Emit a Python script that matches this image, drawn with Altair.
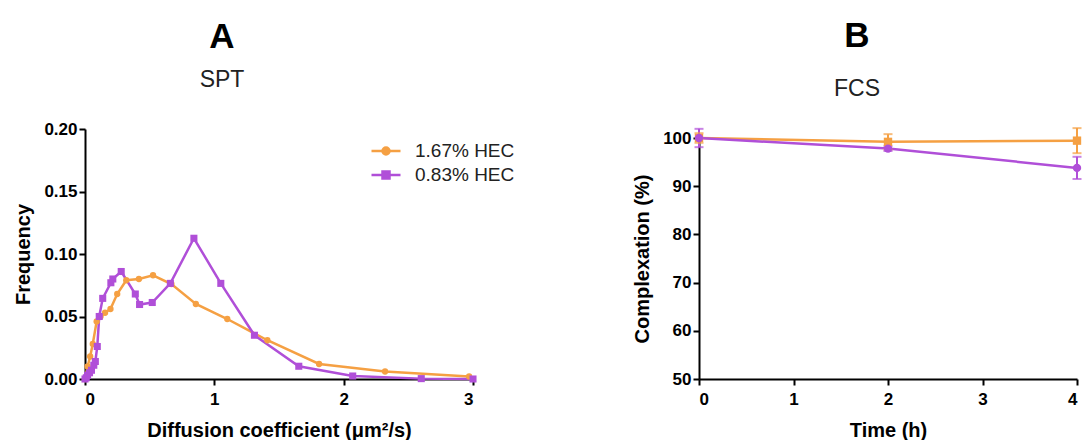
import altair as alt
import pandas as pd

FONT = "Liberation Sans"
series_names = ["1.67% HEC", "0.83% HEC"]
series_colors = ["#F5A043", "#B04FD8"]

# Panel A: SPT diffusion coefficient distribution
a_orange_x = [0, 0.02, 0.04, 0.06, 0.09, 0.12, 0.155, 0.197, 0.249, 0.319, 0.417, 0.526, 0.668, 0.857, 1.10, 1.41, 1.81, 2.32, 2.97]
a_orange_y = [0, 0.010, 0.018, 0.028, 0.046, 0.050, 0.053, 0.056, 0.068, 0.079, 0.080, 0.083, 0.076, 0.060, 0.048, 0.031, 0.012, 0.006, 0.002]
a_purple_x = [0, 0.01, 0.02, 0.035, 0.05, 0.068, 0.08, 0.095, 0.11, 0.137, 0.20, 0.215, 0.28, 0.389, 0.422, 0.52, 0.66, 0.842, 1.05, 1.31, 1.653, 2.07, 2.6, 3.0]
a_purple_y = [0, 0.001, 0.003, 0.005, 0.007, 0.011, 0.014, 0.026, 0.050, 0.0645, 0.077, 0.080, 0.086, 0.068, 0.0596, 0.0612, 0.0765, 0.1126, 0.0765, 0.035, 0.0102, 0.0024, 0.0003, 0.0]

# Panel B: FCS complexation over time
b_time = [0, 2, 4]
b_orange_mean = [100, 99.2, 99.45]
b_orange_err = [1.0, 1.6, 2.6]
b_purple_mean = [100, 97.8, 93.8]
b_purple_err = [1.9, 0.5, 2.3]

rowsA = []
for i, (xs, ys) in enumerate([(a_orange_x, a_orange_y), (a_purple_x, a_purple_y)]):
    for k, (xv, yv) in enumerate(zip(xs, ys)):
        rowsA.append({"series": series_names[i], "D": xv, "F": yv, "k": k})
dfA = pd.DataFrame(rowsA)

rowsB = []
for i, (ms, es) in enumerate([(b_orange_mean, b_orange_err), (b_purple_mean, b_purple_err)]):
    for t, m, e in zip(b_time, ms, es):
        rowsB.append({"series": series_names[i], "T": t, "C": m, "lo": m - e, "hi": m + e})
dfB = pd.DataFrame(rowsB)

color_scale = alt.Scale(domain=series_names, range=series_colors)

axis_common = dict(
    domainColor="black", domainWidth=2, tickColor="black", tickWidth=2, tickSize=6,
    labelFont=FONT, labelFontSize=17, labelFontWeight="bold", labelColor="black",
    titleFont=FONT, titleFontSize=20, titleFontWeight="bold", titleColor="black",
    grid=False,
)

first = series_names[0]
shape_expr = ("datum.value === '" + first + "' ? "
              "'M-1.16,0H1.16M0.28,0A0.28,0.28,0,1,1,-0.28,0A0.28,0.28,0,1,1,0.28,0Z' : "
              "'M-1.16,0H1.16M-0.28,-0.28H0.28V0.28H-0.28Z'")
fill_expr = "datum.value === '" + first + "' ? '" + series_colors[0] + "' : '" + series_colors[1] + "'"

legendA = alt.Legend(
    title=None, orient="none", legendX=287, legendY=8,
    labelFont=FONT, labelFontSize=19, labelColor="#222222",
    symbolSize=625, rowPadding=0, labelOffset=15,
    symbolType={"expr": shape_expr},
    symbolFillColor={"expr": fill_expr},
    symbolStrokeColor={"expr": fill_expr},
    symbolStrokeWidth=2.5, symbolOpacity=1,
)

xA = alt.X("D:Q", scale=alt.Scale(domain=[0, 3], nice=False),
           axis=alt.Axis(values=[0, 1, 2, 3], format="d", title="Diffusion coefficient (μm²/s)",
                         labelPadding=6, titlePadding=13, **axis_common))
yA = alt.Y("F:Q", scale=alt.Scale(domain=[0, 0.2], nice=False),
           axis=alt.Axis(values=[0, 0.05, 0.1, 0.15, 0.2], format=".2f", title="Frequency",
                         titlePadding=10, **axis_common))

baseA = alt.Chart(dfA)
lineA = baseA.mark_line(strokeWidth=2.5).encode(
    x=xA, y=yA, order="k:Q",
    color=alt.Color("series:N", scale=color_scale, legend=legendA),
)
circA = baseA.transform_filter(alt.datum.series == series_names[0]).mark_circle(opacity=1, size=40).encode(
    x=xA, y=yA, color=alt.Color("series:N", scale=color_scale, legend=legendA),
)
sqA = baseA.transform_filter(alt.datum.series == series_names[1]).mark_square(opacity=1, size=50).encode(
    x=xA, y=yA, color=alt.Color("series:N", scale=color_scale, legend=legendA),
)
panelA = alt.layer(lineA, circA, sqA).properties(
    width=388, height=250,
    title=alt.TitleParams(text="A", subtitle="SPT", font=FONT, fontSize=35, fontWeight="bold",
                          subtitleFont=FONT, subtitleFontSize=23, subtitleColor="#222222",
                          color="black", anchor="middle", dx=-57, subtitlePadding=14, offset=28),
)

xB = alt.X("T:Q", scale=alt.Scale(domain=[0, 4], nice=False),
           axis=alt.Axis(values=[0, 1, 2, 3, 4], format="d", title="Time (h)",
                         labelPadding=6, titlePadding=13, **axis_common))
yB = alt.Y("C:Q", scale=alt.Scale(domain=[50, 100], nice=False, zero=False, range=[250, 9]),
           axis=alt.Axis(values=[50, 60, 70, 80, 90, 100], format="d", title="Complexation (%)",
                         titlePadding=10, **axis_common))
colorB = alt.Color("series:N", scale=color_scale, legend=None)

baseB = alt.Chart(dfB)
lineB = baseB.mark_line(strokeWidth=2.5).encode(x=xB, y=yB, color=colorB)
ruleB = baseB.mark_rule(strokeWidth=2).encode(x=xB, y=alt.Y("lo:Q"), y2="hi:Q", color=colorB)
capLoB = baseB.mark_tick(thickness=2, size=9, orient="horizontal").encode(x=xB, y=alt.Y("lo:Q"), color=colorB)
capHiB = baseB.mark_tick(thickness=2, size=9, orient="horizontal").encode(x=xB, y=alt.Y("hi:Q"), color=colorB)
pointB = baseB.mark_point(filled=True, opacity=1, size=70).encode(
    x=xB, y=yB, color=colorB,
    shape=alt.Shape("series:N", scale=alt.Scale(domain=series_names, range=["square", "circle"]), legend=None),
)
panelB = alt.layer(lineB, ruleB, capLoB, capHiB, pointB).properties(
    width=378, height=250,
    title=alt.TitleParams(text="B", subtitle="FCS", font=FONT, fontSize=35, fontWeight="bold",
                          subtitleFont=FONT, subtitleFontSize=23, subtitleColor="#222222",
                          color="black", anchor="middle", dx=-31, subtitlePadding=24, offset=26),
)

chart = alt.hconcat(panelA, panelB, spacing=117).resolve_scale(
    color="independent", shape="independent"
).resolve_legend(color="independent", shape="independent").properties(
    background="white", padding={"top": 11, "left": 5, "right": 0, "bottom": 0}
).configure_view(stroke=None)

chart.save("out.html", embed_options={"renderer": "svg", "actions": False})
